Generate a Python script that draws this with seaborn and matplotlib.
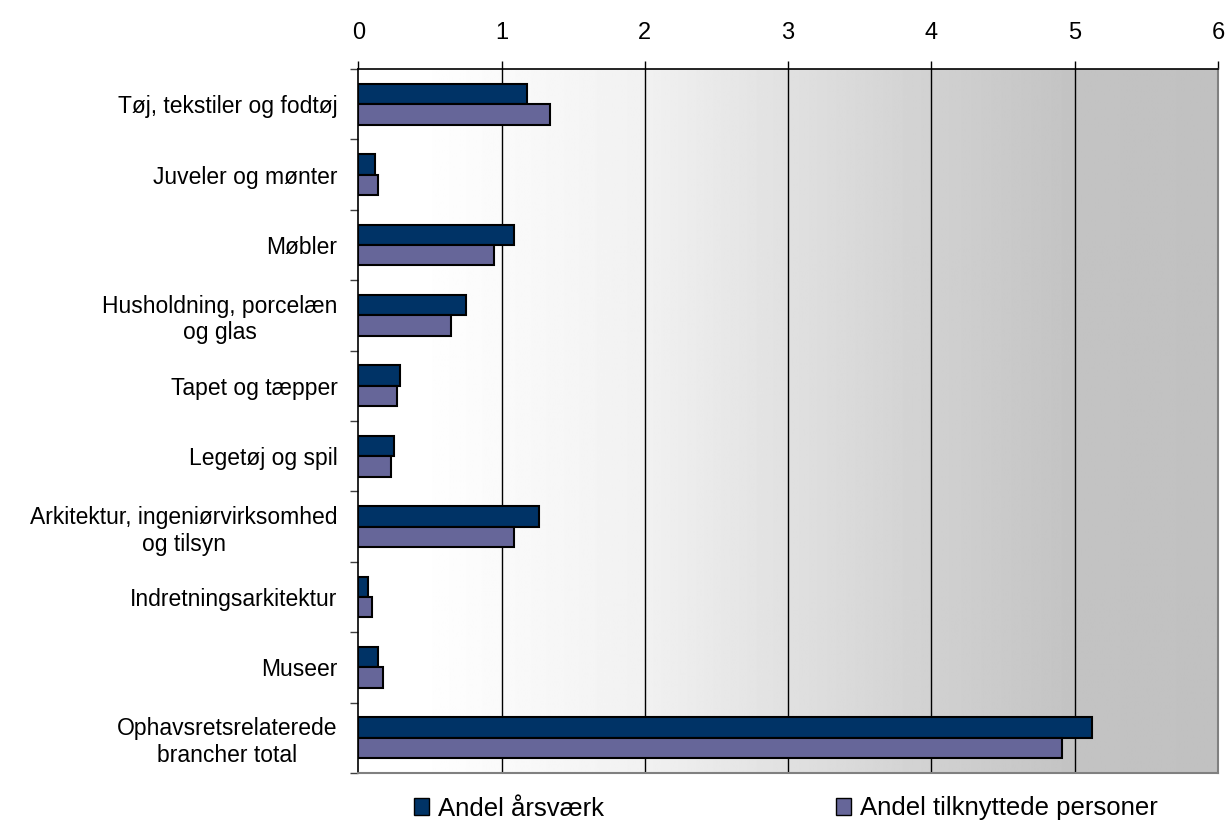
import numpy as np
import pandas as pd
import matplotlib
matplotlib.use("Agg")
import matplotlib.pyplot as plt
from matplotlib.patches import Patch
import seaborn as sns

# data
kategorier = ["Tøj, tekstiler og fodtøj", "Juveler og mønter", "Møbler",
              "Husholdning, porcelæn\nog glas", "Tapet og tæpper", "Legetøj og spil",
              "Arkitektur, ingeniørvirksomhed\nog tilsyn", "Indretningsarkitektur",
              "Museer", "Ophavsretsrelaterede\nbrancher total"]
aarsvaerk = [1.18, 0.12, 1.09, 0.75, 0.29, 0.25, 1.26, 0.07, 0.14, 5.12]
personer = [1.335, 0.14, 0.95, 0.65, 0.27, 0.23, 1.09, 0.095, 0.17, 4.91]
serier = ["Andel årsværk", "Andel tilknyttede personer"]
farver = ["#003366", "#666699"]

df = pd.DataFrame({"kategori": kategorier * 2,
                   "værdi": aarsvaerk + personer,
                   "serie": [serier[0]] * len(kategorier) + [serier[1]] * len(kategorier)})

sns.set_theme(style="white")
plt.rcParams["font.family"] = ["Liberation Sans", "DejaVu Sans"]
plt.rcParams["text.color"] = "black"

fig = plt.figure(figsize=(12.31, 8.25), dpi=100)
ax = fig.add_axes([0.291, 0.063, 0.9894 - 0.291, 0.9164 - 0.063])

# grey gradient background (white -> light grey)
gx = np.linspace(0, 6, 600)
gv = np.interp(gx, [0, 0.4, 1, 2, 3, 4, 5, 6], [1.0, 1.0, 0.98, 0.945, 0.88, 0.82, 0.765, 0.755])
ax.imshow(np.tile(gv, (2, 1)), cmap="gray", vmin=0, vmax=1, aspect="auto",
          extent=[0, 6, 9.5, -0.5], zorder=0, interpolation="bilinear")

sns.barplot(data=df, y="kategori", x="værdi", hue="serie", orient="h",
            palette=farver, saturation=1, width=0.58, edgecolor="black", linewidth=1.5,
            legend=False, ax=ax, zorder=3)

ax.set_xlim(0, 6)
ax.set_ylim(9.5, -0.5)
ax.set_xticks(range(7))
ax.xaxis.tick_top()
ax.tick_params(axis="x", top=True, bottom=False, direction="out", length=6,
               width=1, colors="black", labelcolor="black", labelsize=17, pad=12)
for v in range(1, 6):
    ax.axvline(v, color="black", lw=1, zorder=1)

ax.set_yticks(range(len(kategorier)))
ax.set_yticklabels(kategorier, fontsize=16.5, multialignment="center", color="black")
ax.tick_params(axis="y", which="major", length=0, pad=15)
ax.set_yticks(np.arange(-0.5, 10, 1), minor=True)
ax.tick_params(axis="y", which="minor", left=True, length=6, width=1, color="#404040", direction="out")
ax.set_xlabel("")
ax.set_ylabel("")

for s in ["top", "left"]:
    ax.spines[s].set_color("black")
    ax.spines[s].set_linewidth(1.2)
for s in ["right", "bottom"]:
    ax.spines[s].set_color("#808080")
    ax.spines[s].set_linewidth(1.5)

handles = [Patch(facecolor=f, edgecolor="black", linewidth=1) for f in farver]
fig.legend(handles, serier, loc="center left", bbox_to_anchor=(0.3363, 0.02), ncol=2,
           frameon=False, fontsize=18.5, handlelength=0.6, handleheight=0.6,
           handletextpad=0.35, columnspacing=9.0, borderpad=0, borderaxespad=0)

fig.savefig("out.png", dpi=100)
